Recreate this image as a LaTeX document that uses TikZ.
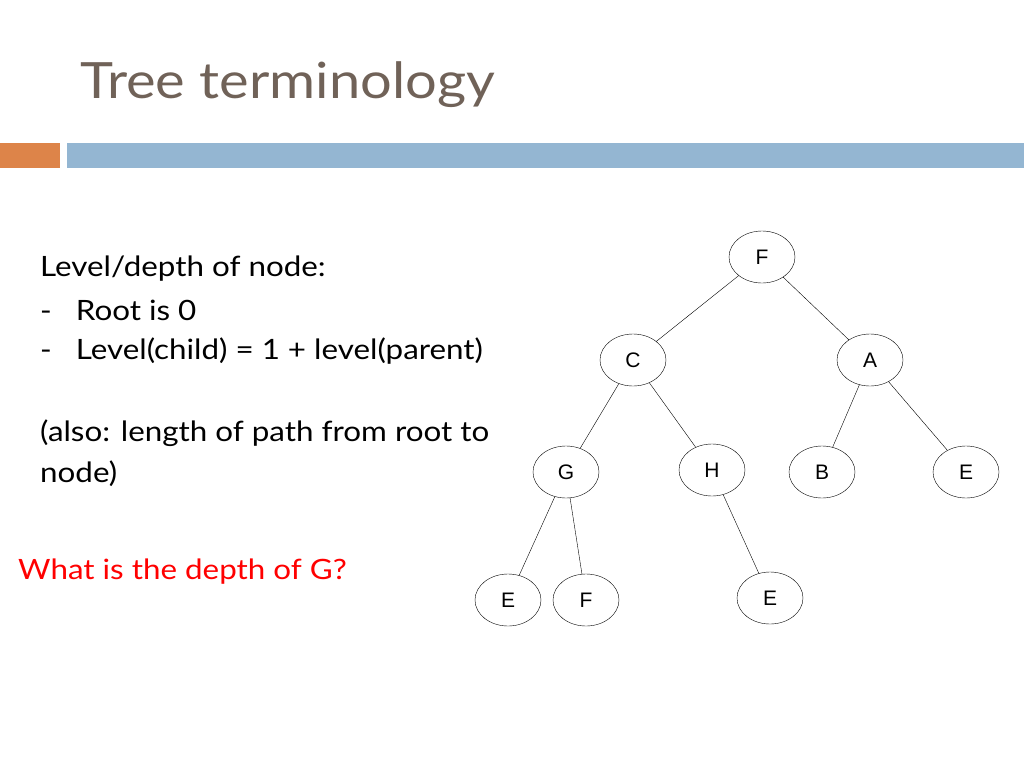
\documentclass[tikz,border=0pt]{standalone}
\usepackage{fontspec}
\setmainfont{Lato}[FakeStretch=1.12]
\newfontfamily\arialfont{Liberation Sans}
\usetikzlibrary{positioning,shapes.geometric}
\definecolor{titlegray}{RGB}{112,98,88}
\definecolor{barorange}{RGB}{221,132,73}
\definecolor{barblue}{RGB}{148,182,210}
\tikzset{
  treenode/.style={draw,ellipse,minimum width=66pt,minimum height=52pt,inner sep=0pt,font=\arialfont\fontsize{21}{21}\selectfont},
  bodytext/.style={anchor=west,inner sep=0pt,font=\fontsize{28}{28}\selectfont}
}
\begin{document}
\begin{tikzpicture}[x=1pt,y=-1pt]
        \useasboundingbox (0,0) rectangle (1024,768);
        % title and bars
        \node[anchor=west,inner sep=0pt,text=titlegray,font=\fontsize{50}{50}\selectfont] (title) at (80,85) {Tree terminology};
        \fill[barorange] (0,143) rectangle (60,168);
        \fill[barblue] (67,143) rectangle (1024,168);

        % text on the left
        \node[bodytext] (line1) at (40,269) {Level/depth of node:};
        \node[bodytext] (line2) at (40,310) {-\hspace{24pt}Root is 0};
        \node[bodytext] (line3) at (40,351) {-\hspace{24pt}Level(child) = 1 + level(parent)};
        \node[bodytext] (line4) at (40,433) {(also: length of path from root to};
        \node[bodytext] (line5) at (40,474) {node)};
        \node[bodytext,text=red] (question) at (18,572) {What is the depth of G?};

        % tree nodes
        \node[treenode] (nF) at (762,257) {F};
        \node[treenode] (nC) at (633,360) {C};
        \node[treenode] (nA) at (870,360) {A};
        \node[treenode] (nG) at (566,472) {G};
        \node[treenode] (nH) at (712,470) {H};
        \node[treenode] (nB) at (822,472) {B};
        \node[treenode] (nE) at (966,472) {E};
        \node[treenode] (nGE) at (508,600) {E};
        \node[treenode] (nGF) at (586,600) {F};
        \node[treenode] (nHE) at (770,598) {E};

        % edges
        \draw (nF) -- (nC);
        \draw (nF) -- (nA);
        \draw (nC) -- (nG);
        \draw (nC) -- (nH);
        \draw (nA) -- (nB);
        \draw (nA) -- (nE);
        \draw (nG) -- (nGE);
        \draw (nG) -- (nGF);
        \draw (nH) -- (nHE);
\end{tikzpicture}
\end{document}
